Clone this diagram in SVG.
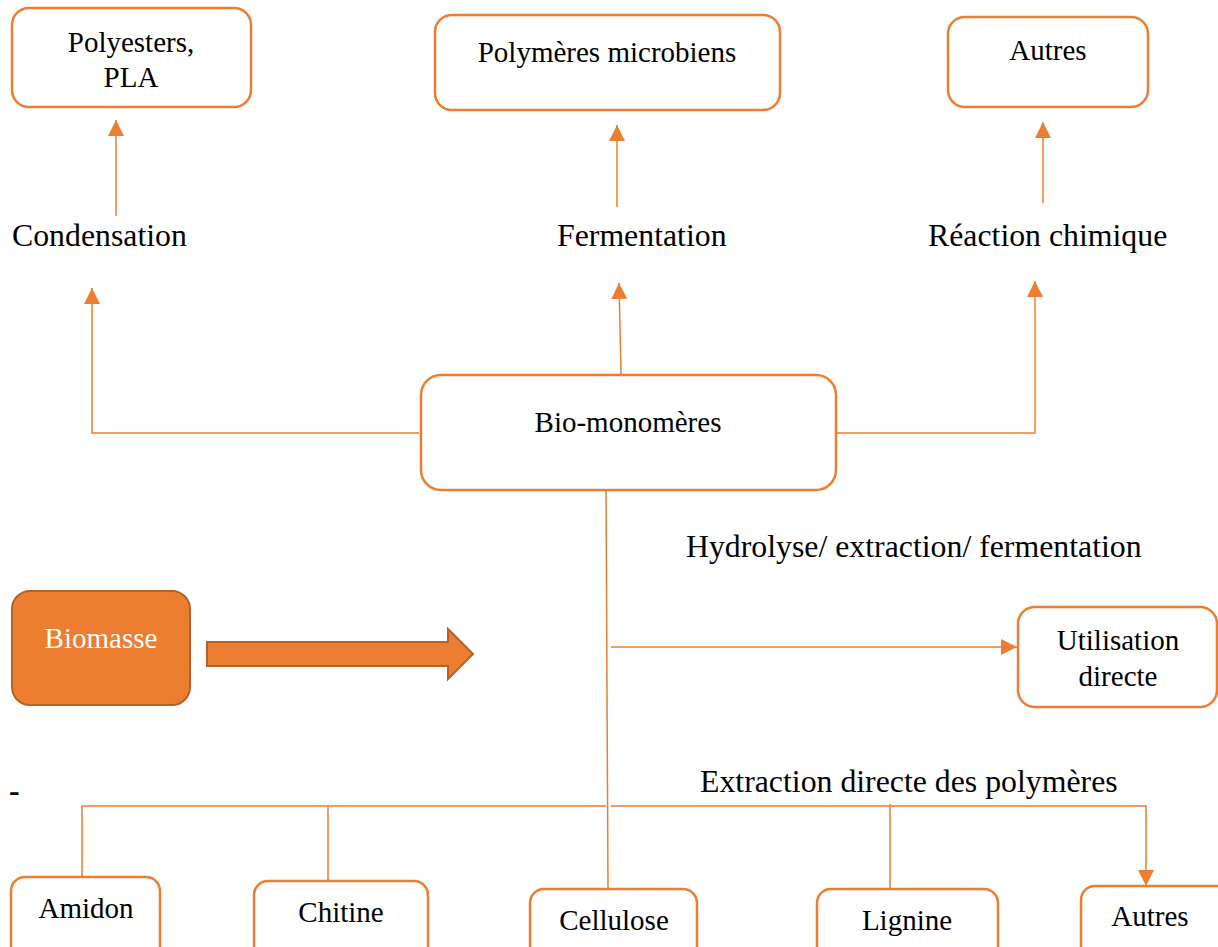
<svg xmlns="http://www.w3.org/2000/svg" width="1218" height="947" viewBox="0 0 1218 947">
  <style>
    .box { fill: #FFFFFF; stroke: #ED7D31; stroke-width: 2.5; }
    .bio { fill: #ED7D31; stroke: #B5622A; stroke-width: 2; }
    .node-text { font-family: "Liberation Serif", "Times New Roman", serif; font-size: 29px; fill: #000000; text-anchor: middle; }
    .lbl { font-family: "Liberation Serif", "Times New Roman", serif; font-size: 31.8px; fill: #000000; }
    .white { fill: #FFFFFF; }
    .ln { fill: none; stroke: #ED7D31; stroke-width: 1.5; }
  </style>
  <defs>
    <marker id="head" viewBox="0 0 16 16" refX="16" refY="8" markerWidth="16" markerHeight="16" markerUnits="userSpaceOnUse" orient="auto">
      <path d="M0,0 L16,8 L0,16 Z" fill="#ED7D31"/>
    </marker>
  </defs>

  <rect width="1218" height="947" fill="#FFFFFF"/>

  <!-- connectors -->
  <g id="connectors">
    <line class="ln" x1="116" y1="216" x2="116" y2="120" marker-end="url(#head)"/>
    <line class="ln" x1="617" y1="207" x2="617" y2="125" marker-end="url(#head)"/>
    <line class="ln" x1="1043" y1="203" x2="1043" y2="122" marker-end="url(#head)"/>
    <polyline class="ln" points="419,433 92,433 92,288" marker-end="url(#head)"/>
    <line class="ln" x1="621" y1="374" x2="619" y2="283" marker-end="url(#head)"/>
    <polyline class="ln" points="837,433 1035,433 1035,281" marker-end="url(#head)"/>
    <line class="ln" x1="606" y1="488" x2="608" y2="889"/>
    <line class="ln" x1="611" y1="647" x2="1017" y2="647" marker-end="url(#head)"/>
    <polyline class="ln" points="82,877 82,806 606,806"/>
    <line class="ln" x1="328" y1="806" x2="328" y2="881"/>
    <polyline class="ln" points="611,806 1146,806 1146,886" marker-end="url(#head)"/>
    <line class="ln" x1="890" y1="804" x2="890" y2="889"/>
    <!-- block arrow from Biomasse -->
    <path class="bio" d="M207,642 L448,642 L448,629 L473,654 L448,679 L448,666 L207,666 Z"/>
  </g>

  <!-- top row -->
  <g id="polyesters">
    <rect class="box" x="12" y="8" width="239" height="99" rx="17"/>
    <text class="node-text" font-family="Liberation Serif, serif" x="131" y="52">Polyesters,</text>
    <text class="node-text" font-family="Liberation Serif, serif" x="131" y="87">PLA</text>
  </g>
  <g id="polymeres-microbiens">
    <rect class="box" x="435" y="15" width="345" height="95" rx="17"/>
    <text class="node-text" font-family="Liberation Serif, serif" x="607" y="62">Polymères microbiens</text>
  </g>
  <g id="autres-haut">
    <rect class="box" x="948" y="17" width="200" height="90" rx="17"/>
    <text class="node-text" font-family="Liberation Serif, serif" x="1048" y="60">Autres</text>
  </g>

  <!-- process labels -->
  <g id="labels">
    <text class="lbl" x="12" y="246">Condensation</text>
    <text class="lbl" x="557" y="246">Fermentation</text>
    <text class="lbl" x="928" y="246">Réaction chimique</text>
    <text class="lbl" x="686" y="557">Hydrolyse/ extraction/ fermentation</text>
    <text class="lbl" x="700" y="792">Extraction directe des polymères</text>
    <text class="lbl" x="9" y="801" font-weight="bold" font-size="24px">-</text>
  </g>

  <g id="bio-monomeres">
    <rect class="box" x="421" y="375" width="415" height="115" rx="20"/>
    <text class="node-text" font-family="Liberation Serif, serif" x="628" y="432">Bio-monomères</text>
  </g>

  <g id="biomasse">
    <rect class="bio" x="12" y="591" width="178" height="114" rx="18"/>
    <text class="node-text white" font-family="Liberation Serif, serif" x="101" y="648">Biomasse</text>
  </g>

  <g id="utilisation-directe">
    <rect class="box" x="1018" y="607" width="199" height="100" rx="17"/>
    <text class="node-text" font-family="Liberation Serif, serif" x="1118" y="650">Utilisation</text>
    <text class="node-text" font-family="Liberation Serif, serif" x="1118" y="686">directe</text>
  </g>

  <!-- bottom row -->
  <g id="amidon">
    <rect class="box" x="11" y="877" width="149" height="100" rx="14"/>
    <text class="node-text" font-family="Liberation Serif, serif" x="86" y="918">Amidon</text>
  </g>
  <g id="chitine">
    <rect class="box" x="254" y="881" width="174" height="100" rx="14"/>
    <text class="node-text" font-family="Liberation Serif, serif" x="341" y="922">Chitine</text>
  </g>
  <g id="cellulose">
    <rect class="box" x="530" y="889" width="167" height="100" rx="14"/>
    <text class="node-text" font-family="Liberation Serif, serif" x="614" y="930">Cellulose</text>
  </g>
  <g id="lignine">
    <rect class="box" x="817" y="889" width="181" height="100" rx="14"/>
    <text class="node-text" font-family="Liberation Serif, serif" x="907" y="930">Lignine</text>
  </g>
  <g id="autres-bas">
    <rect class="box" x="1081" y="886" width="150" height="100" rx="14"/>
    <text class="node-text" font-family="Liberation Serif, serif" x="1150" y="926">Autres</text>
  </g>
</svg>
